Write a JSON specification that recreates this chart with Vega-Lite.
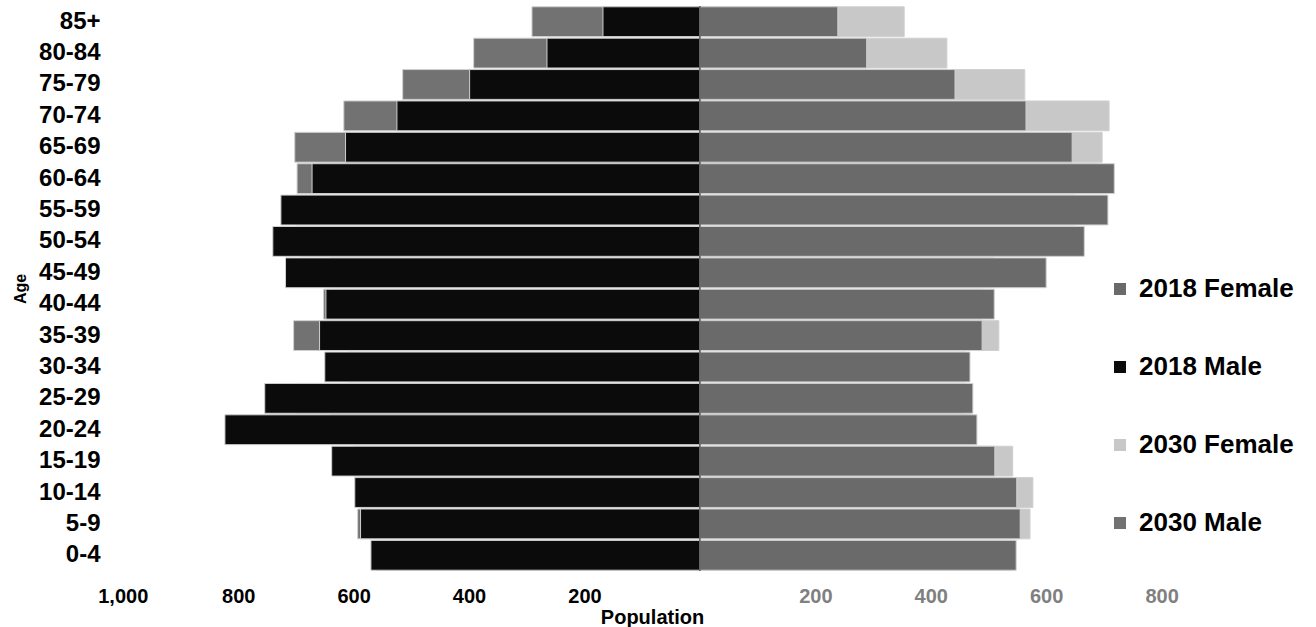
{
  "$schema": "https://vega.github.io/schema/vega-lite/v6.json",
  "width": 1070,
  "height": 565,
  "autosize": {"type": "none"},
  "padding": {"left": 117, "top": 6, "right": 129, "bottom": 56},
  "background": "white",
  "config": {"view": {"stroke": null}, "font": "Liberation Sans"},
  "data": {
    "values": [
      {"age": "85+", "series": "2030 Male", "pop": 291},
      {"age": "80-84", "series": "2030 Male", "pop": 392},
      {"age": "75-79", "series": "2030 Male", "pop": 515},
      {"age": "70-74", "series": "2030 Male", "pop": 617},
      {"age": "65-69", "series": "2030 Male", "pop": 702},
      {"age": "60-64", "series": "2030 Male", "pop": 698},
      {"age": "55-59", "series": "2030 Male", "pop": 700},
      {"age": "50-54", "series": "2030 Male", "pop": 690},
      {"age": "45-49", "series": "2030 Male", "pop": 640},
      {"age": "40-44", "series": "2030 Male", "pop": 652},
      {"age": "35-39", "series": "2030 Male", "pop": 704},
      {"age": "30-34", "series": "2030 Male", "pop": 610},
      {"age": "25-29", "series": "2030 Male", "pop": 700},
      {"age": "20-24", "series": "2030 Male", "pop": 640},
      {"age": "15-19", "series": "2030 Male", "pop": 600},
      {"age": "10-14", "series": "2030 Male", "pop": 590},
      {"age": "5-9", "series": "2030 Male", "pop": 593},
      {"age": "0-4", "series": "2030 Male", "pop": 560},
      {"age": "85+", "series": "2030 Female", "pop": 354},
      {"age": "80-84", "series": "2030 Female", "pop": 428},
      {"age": "75-79", "series": "2030 Female", "pop": 563},
      {"age": "70-74", "series": "2030 Female", "pop": 709},
      {"age": "65-69", "series": "2030 Female", "pop": 697},
      {"age": "60-64", "series": "2030 Female", "pop": 690},
      {"age": "55-59", "series": "2030 Female", "pop": 650},
      {"age": "50-54", "series": "2030 Female", "pop": 600},
      {"age": "45-49", "series": "2030 Female", "pop": 510},
      {"age": "40-44", "series": "2030 Female", "pop": 490},
      {"age": "35-39", "series": "2030 Female", "pop": 518},
      {"age": "30-34", "series": "2030 Female", "pop": 460},
      {"age": "25-29", "series": "2030 Female", "pop": 460},
      {"age": "20-24", "series": "2030 Female", "pop": 470},
      {"age": "15-19", "series": "2030 Female", "pop": 542},
      {"age": "10-14", "series": "2030 Female", "pop": 577},
      {"age": "5-9", "series": "2030 Female", "pop": 572},
      {"age": "0-4", "series": "2030 Female", "pop": 540},
      {"age": "85+", "series": "2018 Male", "pop": 168},
      {"age": "80-84", "series": "2018 Male", "pop": 265},
      {"age": "75-79", "series": "2018 Male", "pop": 399},
      {"age": "70-74", "series": "2018 Male", "pop": 525},
      {"age": "65-69", "series": "2018 Male", "pop": 614},
      {"age": "60-64", "series": "2018 Male", "pop": 672},
      {"age": "55-59", "series": "2018 Male", "pop": 726},
      {"age": "50-54", "series": "2018 Male", "pop": 740},
      {"age": "45-49", "series": "2018 Male", "pop": 718},
      {"age": "40-44", "series": "2018 Male", "pop": 648},
      {"age": "35-39", "series": "2018 Male", "pop": 659},
      {"age": "30-34", "series": "2018 Male", "pop": 650},
      {"age": "25-29", "series": "2018 Male", "pop": 754},
      {"age": "20-24", "series": "2018 Male", "pop": 823},
      {"age": "15-19", "series": "2018 Male", "pop": 638},
      {"age": "10-14", "series": "2018 Male", "pop": 598},
      {"age": "5-9", "series": "2018 Male", "pop": 588},
      {"age": "0-4", "series": "2018 Male", "pop": 570},
      {"age": "85+", "series": "2018 Female", "pop": 239},
      {"age": "80-84", "series": "2018 Female", "pop": 289},
      {"age": "75-79", "series": "2018 Female", "pop": 442},
      {"age": "70-74", "series": "2018 Female", "pop": 565},
      {"age": "65-69", "series": "2018 Female", "pop": 645},
      {"age": "60-64", "series": "2018 Female", "pop": 718},
      {"age": "55-59", "series": "2018 Female", "pop": 707},
      {"age": "50-54", "series": "2018 Female", "pop": 666},
      {"age": "45-49", "series": "2018 Female", "pop": 600},
      {"age": "40-44", "series": "2018 Female", "pop": 510},
      {"age": "35-39", "series": "2018 Female", "pop": 489},
      {"age": "30-34", "series": "2018 Female", "pop": 468},
      {"age": "25-29", "series": "2018 Female", "pop": 473},
      {"age": "20-24", "series": "2018 Female", "pop": 480},
      {"age": "15-19", "series": "2018 Female", "pop": 511},
      {"age": "10-14", "series": "2018 Female", "pop": 549},
      {"age": "5-9", "series": "2018 Female", "pop": 555},
      {"age": "0-4", "series": "2018 Female", "pop": 548}
    ]
  },
  "layer": [
    {
      "transform": [
        {"calculate": "indexof(datum.series, 'Male') >= 0 ? -datum.pop : datum.pop", "as": "signed"}
      ],
      "mark": {"type": "bar", "stroke": "#d0d0d0", "strokeWidth": 1},
      "encoding": {
        "y": {
          "field": "age",
          "type": "nominal",
          "sort": ["85+", "80-84", "75-79", "70-74", "65-69", "60-64", "55-59", "50-54", "45-49", "40-44", "35-39", "30-34", "25-29", "20-24", "15-19", "10-14", "5-9", "0-4"],
          "scale": {"paddingInner": 0.05, "paddingOuter": 0.025},
          "axis": {
            "title": "Age",
            "titleFontSize": 16,
            "titleFontWeight": "bold",
            "titleColor": "#000000",
            "titlePadding": 10,
            "labelFontSize": 24,
            "labelFontWeight": "bold",
            "labelColor": "#000000",
            "labelPadding": 17,
            "ticks": false,
            "domain": false
          }
        },
        "x": {
          "field": "signed",
          "type": "quantitative",
          "stack": null,
          "scale": {"domain": [-1010, 844], "nice": false, "zero": false},
          "axis": {
            "title": "Population",
            "titleFontSize": 20,
            "titleFontWeight": "bold",
            "titleColor": "#000000",
            "titlePadding": 1,
            "values": [-1000, -800, -600, -400, -200, 200, 400, 600, 800],
            "labelExpr": "format(abs(datum.value), ',')",
            "labelFontSize": 20,
            "labelFontWeight": "bold",
            "labelColor": {"condition": {"test": "datum.value < 0", "value": "#000000"}, "value": "#808080"},
            "labelFlush": false,
            "labelPadding": 15,
            "ticks": false,
            "domain": false,
            "grid": false
          }
        },
        "color": {
          "field": "series",
          "type": "nominal",
          "scale": {
            "domain": ["2018 Female", "2018 Male", "2030 Female", "2030 Male"],
            "range": ["#6a6a6a", "#0b0b0b", "#c8c8c8", "#727272"]
          },
          "legend": {
            "title": null,
            "orient": "none",
            "legendX": 990,
            "legendY": 270,
            "direction": "vertical",
            "padding": 0,
            "symbolType": "square",
            "symbolSize": 144,
            "symbolStrokeWidth": 0,
            "labelFontSize": 26,
            "labelFontWeight": "bold",
            "labelColor": "#000000",
            "labelOffset": 6,
            "rowPadding": 52
          }
        }
      }
    },
    {
      "data": {"values": [{"center": 0}]},
      "mark": {"type": "rule", "color": "#555555", "strokeWidth": 1.5},
      "encoding": {"x": {"field": "center", "type": "quantitative"}}
    }
  ]
}
